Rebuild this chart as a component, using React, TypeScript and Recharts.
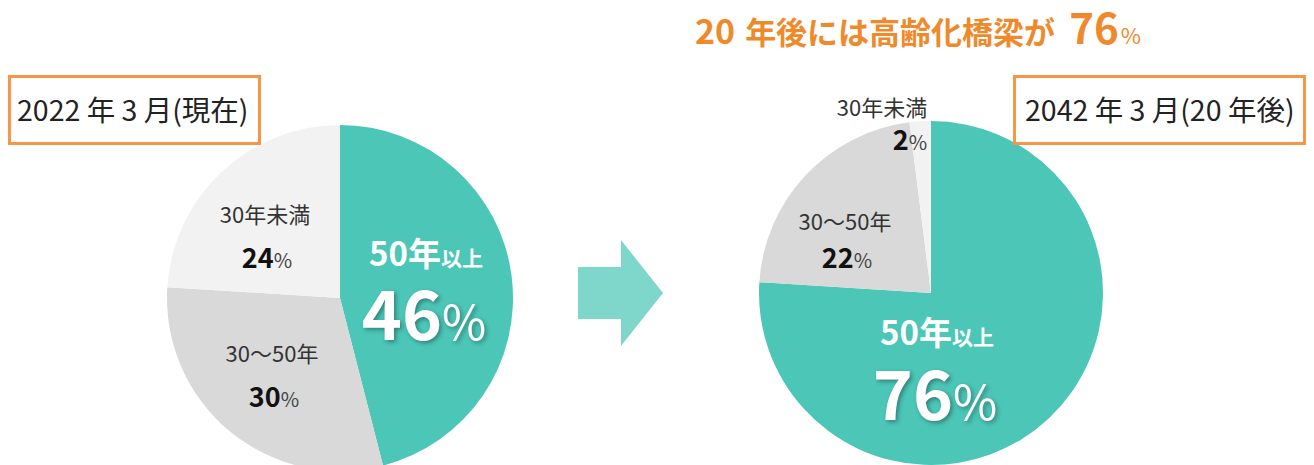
import { PieChart, Pie, Cell } from 'recharts';

const W = 1314;
const H = 465;
const FONT = '"Noto Sans CJK JP", "Noto Sans", sans-serif';

// data
const categories = ['50年以上', '30〜50年', '30年未満'];
const share2022 = [46, 30, 24];
const share2042 = [76, 22, 2];
const sliceColors = ['#4BC6B7', '#D9D9D9', '#F2F2F2'];

const panelTitles = ['2022 年 3 月(現在)', '2042 年 3 月(20 年後)'];
const headlineLead = '20';
const headlineBody = '年後には高齢化橋梁が';
const headlineValue = '76';

const data2022 = categories.map((name, i) => ({ name, value: share2022[i] }));
const data2042 = categories.map((name, i) => ({ name, value: share2042[i] }));

// label placement, relative to each pie's centre
type Spot = { dx: number; dy: number; dx2?: number; dy2: number };
const spots2022: Spot[] = [
  { dx: 86, dy: -32, dx2: 84, dy2: 42 },
  { dx: -68, dy: 64, dx2: -66, dy2: 109 },
  { dx: -75, dy: -75, dx2: -73, dy2: -30 },
];
const spots2042: Spot[] = [
  { dx: 6, dy: 52, dx2: 4, dy2: 127 },
  { dx: -86, dy: -63, dx2: -84, dy2: -25 },
  { dx: -49, dy: -177, dx2: -21, dy2: -143 },
];

const makeLabel = (cx: number, cy: number, spots: Spot[]) => (props: any) => {
  const i: number = props.index;
  const s = spots[i];
  const name: string = props.name ?? categories[i];
  const value = props.value;
  const x1 = cx + s.dx;
  const y1 = cy + s.dy;
  const x2 = cx + (s.dx2 ?? s.dx);
  const y2 = cy + s.dy2;

  if (i === 0) {
    const main = name.endsWith('以上') ? name.slice(0, -2) : name;
    return (
      <g key={`lbl-${i}`} fontFamily={FONT}>
        <text x={x1} y={y1} textAnchor="middle" fill="#fff">
          <tspan fontSize={33} fontWeight={700}>{main}</tspan>
          <tspan fontSize={21} fontWeight={700}>以上</tspan>
        </text>
        <text
          x={x2}
          y={y2}
          textAnchor="middle"
          fill="#fff"
          style={{ filter: 'drop-shadow(2px 2px 2px rgba(0,0,0,0.35))' }}
        >
          <tspan fontSize={68} fontWeight={700}>{value}</tspan>
          <tspan fontSize={48} fontWeight={400}>%</tspan>
        </text>
      </g>
    );
  }

  return (
    <g key={`lbl-${i}`} fontFamily={FONT}>
      <text x={x1} y={y1} textAnchor="middle" fill="#333" fontSize={22}>
        {name}
      </text>
      <text x={x2} y={y2} textAnchor="middle" fill="#111">
        <tspan fontSize={27} fontWeight={700}>{value}</tspan>
        <tspan fontSize={20} fill="#444">%</tspan>
      </text>
    </g>
  );
};

export default function App() {
  const orange = '#EF8A2C';
  const boxLine = '#F79646';

  return (
    <div style={{ position: 'absolute', left: 0, top: 0, width: W, height: H, background: '#fff' }}>
      <PieChart width={W} height={H} margin={{ top: 0, right: 0, bottom: 0, left: 0 }}>
        <Pie
          data={data2022}
          dataKey="value"
          nameKey="name"
          cx={340}
          cy={298}
          outerRadius={173}
          startAngle={90}
          endAngle={-270}
          stroke="none"
          labelLine={false}
          label={makeLabel(340, 298, spots2022)}
          isAnimationActive={false}
        >
          {data2022.map((d, i) => (
            <Cell key={d.name} fill={sliceColors[i]} />
          ))}
        </Pie>
        <Pie
          data={data2042}
          dataKey="value"
          nameKey="name"
          cx={931}
          cy={293}
          outerRadius={172}
          startAngle={90}
          endAngle={-270}
          stroke="none"
          labelLine={false}
          label={makeLabel(931, 293, spots2042)}
          isAnimationActive={false}
        >
          {data2042.map((d, i) => (
            <Cell key={d.name} fill={sliceColors[i]} />
          ))}
        </Pie>
      </PieChart>

      {/* overlay: headline, arrow, panel boxes */}
      <svg
        width={W}
        height={H}
        style={{ position: 'absolute', left: 0, top: 0, pointerEvents: 'none' }}
        fontFamily={FONT}
      >
        <text x={695} y={44} fill={orange} fontWeight={700}>
          <tspan fontSize={34}>{headlineLead}</tspan>
          <tspan dx={10} fontSize={31}>{headlineBody}</tspan>
          <tspan dx={14} fontSize={42}>{headlineValue}</tspan>
          <tspan dx={2} fontSize={22} fontWeight={400}>%</tspan>
        </text>

        <polygon
          points="578,267 621,267 621,240 663,293 621,346 621,319 578,319"
          fill="#7FD7CC"
        />

        <rect x={9.5} y={76.5} width={250} height={67} fill="#fff" stroke={boxLine} strokeWidth={3} />
        <text x={17} y={121} fontSize={28.5} fill="#222">{panelTitles[0]}</text>

        <rect x={1014.5} y={76.5} width={290} height={67} fill="#fff" stroke={boxLine} strokeWidth={3} />
        <text x={1025} y={121} fontSize={28.5} fill="#222">{panelTitles[1]}</text>
      </svg>
    </div>
  );
}
